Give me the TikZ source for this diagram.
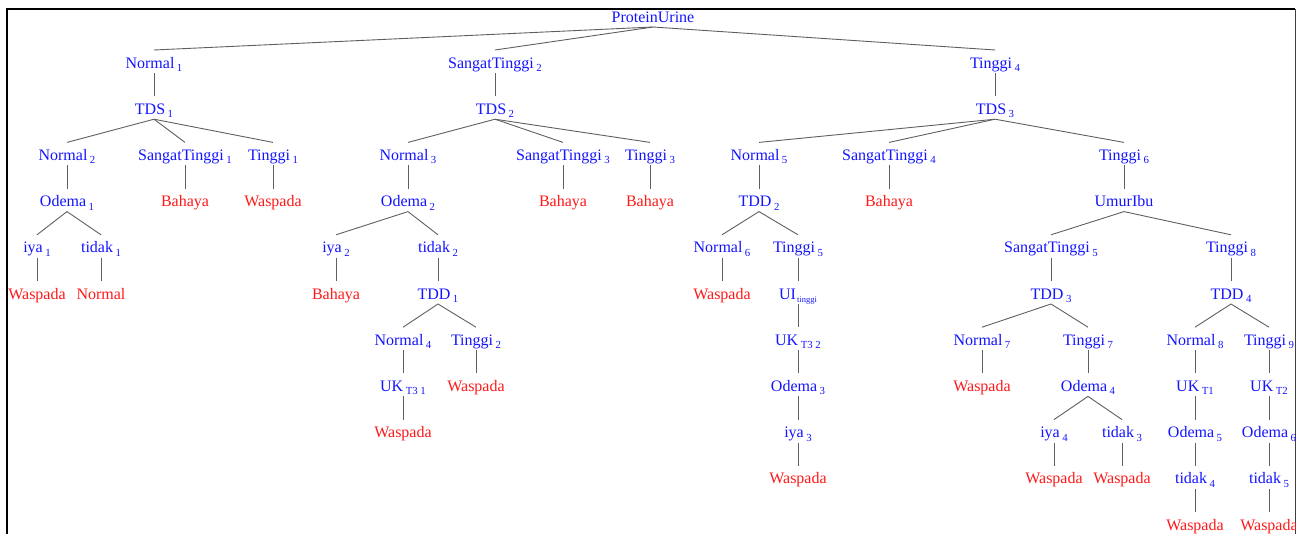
\documentclass[tikz,border=0pt]{standalone}
\usepackage{fontspec}
\setmainfont{Liberation Serif}
\newcommand\ix[1]{\kern2.5pt\raisebox{-3.4pt}{\fontsize{10.8}{11}\selectfont #1}}
\newcommand\ixs[1]{\kern1pt\raisebox{-3.4pt}{\fontsize{8.5}{9}\selectfont #1}}
\tikzset{
  nd/.style={anchor=base,inner sep=0pt,outer sep=0pt,text height=18pt,text depth=5pt,
             font=\fontsize{16}{18}\selectfont},
  b/.style={nd,text={rgb,255:red,20;green,20;blue,255}},
  r/.style={nd,text={rgb,255:red,255;green,25;blue,25}},
  edge/.style={draw={rgb,255:red,95;green,95;blue,95},line width=0.9pt}
}
\begin{document}
\begin{tikzpicture}[x=1pt,y=-1pt]
\useasboundingbox (0,0) rectangle (1296,533);
\begin{scope}
\clip (0,0) rectangle (1296,533);
% frame
\draw[line width=1.5pt] (7,545) -- (7,9) -- (1295,9);
\draw[line width=0.8pt,black!75] (1295,9) -- (1295,545);

% row 0
\node[b] (pu) at (653,22) {ProteinUrine};
% row 1
\node[b] (a1) at (154,68) {Normal\ix{1}};
\node[b] (a2) at (495,68) {SangatTinggi\ix{2}};
\node[b] (a3) at (995,68) {Tinggi\ix{4}};
% row 2
\node[b] (tds1) at (154,114.2) {TDS\ix{1}};
\node[b] (tds2) at (495,114.2) {TDS\ix{2}};
\node[b] (tds3) at (995,114.2) {TDS\ix{3}};
% row 3
\node[b] (n2) at (67,160.4) {Normal\ix{2}};
\node[b] (st1) at (185,160.4) {SangatTinggi\ix{1}};
\node[b] (t1) at (273,160.4) {Tinggi\ix{1}};
\node[b] (n3) at (408,160.4) {Normal\ix{3}};
\node[b] (st3) at (563,160.4) {SangatTinggi\ix{3}};
\node[b] (t3) at (650,160.4) {Tinggi\ix{3}};
\node[b] (n5) at (759,160.4) {Normal\ix{5}};
\node[b] (st4) at (889,160.4) {SangatTinggi\ix{4}};
\node[b] (t6) at (1124,160.4) {Tinggi\ix{6}};
% row 4
\node[b] (od1) at (67,206.6) {Odema\ix{1}};
\node[r] (l1) at (185,206.6) {Bahaya};
\node[r] (l2) at (273,206.6) {Waspada};
\node[b] (od2) at (408,206.6) {Odema\ix{2}};
\node[r] (l3) at (563,206.6) {Bahaya};
\node[r] (l4) at (650,206.6) {Bahaya};
\node[b] (tdd2) at (759,206.6) {TDD\ix{2}};
\node[r] (l5) at (889,206.6) {Bahaya};
\node[b] (umur) at (1124,206.6) {UmurIbu};
% row 5
\node[b] (iya1) at (37,252.8) {iya\ix{1}};
\node[b] (tdk1) at (101,252.8) {tidak\ix{1}};
\node[b] (iya2) at (336,252.8) {iya\ix{2}};
\node[b] (tdk2) at (438,252.8) {tidak\ix{2}};
\node[b] (n6) at (722,252.8) {Normal\ix{6}};
\node[b] (t5) at (798,252.8) {Tinggi\ix{5}};
\node[b] (st5) at (1051,252.8) {SangatTinggi\ix{5}};
\node[b] (t8) at (1231,252.8) {Tinggi\ix{8}};
% row 6
\node[r] (l6) at (37,299) {Waspada};
\node[r] (l7) at (101,299) {Normal};
\node[r] (l8) at (336,299) {Bahaya};
\node[b] (tdd1) at (438,299) {TDD\ix{1}};
\node[r] (l9) at (722,299) {Waspada};
\node[b] (ui) at (798,299) {UI\ixs{tinggi}};
\node[b] (tdd3) at (1051,299) {TDD\ix{3}};
\node[b] (tdd4) at (1231,299) {TDD\ix{4}};
% row 7
\node[b] (n4) at (403,345.2) {Normal\ix{4}};
\node[b] (t2) at (476,345.2) {Tinggi\ix{2}};
\node[b] (uk32) at (798,345.2) {UK\ix{T3 2}};
\node[b] (n7) at (982,345.2) {Normal\ix{7}};
\node[b] (t7) at (1088,345.2) {Tinggi\ix{7}};
\node[b] (n8) at (1195,345.2) {Normal\ix{8}};
\node[b] (t9) at (1269,345.2) {Tinggi\ix{9}};
% row 8
\node[b] (uk31) at (403,391.4) {UK\ix{T3 1}};
\node[r] (l10) at (476,391.4) {Waspada};
\node[b] (od3) at (798,391.4) {Odema\ix{3}};
\node[r] (l11) at (982,391.4) {Waspada};
\node[b] (od4) at (1088,391.4) {Odema\ix{4}};
\node[b] (ukt1) at (1195,391.4) {UK\ix{T1}};
\node[b] (ukt2) at (1269,391.4) {UK\ix{T2}};
% row 9
\node[r] (l12) at (403,437.6) {Waspada};
\node[b] (iya3) at (798,437.6) {iya\ix{3}};
\node[b] (iya4) at (1054,437.6) {iya\ix{4}};
\node[b] (tdk3) at (1122,437.6) {tidak\ix{3}};
\node[b] (od5) at (1195,437.6) {Odema\ix{5}};
\node[b] (od6) at (1269,437.6) {Odema\ix{6}};
% row 10
\node[r] (l13) at (798,483.8) {Waspada};
\node[r] (l14) at (1054,483.8) {Waspada};
\node[r] (l15) at (1122,483.8) {Waspada};
\node[b] (tdk4) at (1195,483.8) {tidak\ix{4}};
\node[b] (tdk5) at (1269,483.8) {tidak\ix{5}};
% row 11
\node[r] (l16) at (1195,530) {Waspada};
\node[r] (l17) at (1269,530) {Waspada};

% connectors
\foreach \p/\c in {pu/a1,pu/a2,pu/a3,a1/tds1,a2/tds2,a3/tds3,
  tds1/n2,tds1/st1,tds1/t1,tds2/n3,tds2/st3,tds2/t3,tds3/n5,tds3/st4,tds3/t6,
  n2/od1,st1/l1,t1/l2,n3/od2,st3/l3,t3/l4,n5/tdd2,st4/l5,t6/umur,
  od1/iya1,od1/tdk1,od2/iya2,od2/tdk2,tdd2/n6,tdd2/t5,umur/st5,umur/t8,
  iya1/l6,tdk1/l7,iya2/l8,tdk2/tdd1,n6/l9,t5/ui,st5/tdd3,t8/tdd4,
  tdd1/n4,tdd1/t2,ui/uk32,tdd3/n7,tdd3/t7,tdd4/n8,tdd4/t9,
  n4/uk31,t2/l10,uk32/od3,n7/l11,t7/od4,n8/ukt1,t9/ukt2,
  uk31/l12,od3/iya3,od4/iya4,od4/tdk3,ukt1/od5,ukt2/od6,
  iya3/l13,iya4/l14,tdk3/l15,od5/tdk4,od6/tdk5,tdk4/l16,tdk5/l17}
  \draw[edge] (\p.south) -- (\c.north);
\end{scope}
\end{tikzpicture}
\end{document}
